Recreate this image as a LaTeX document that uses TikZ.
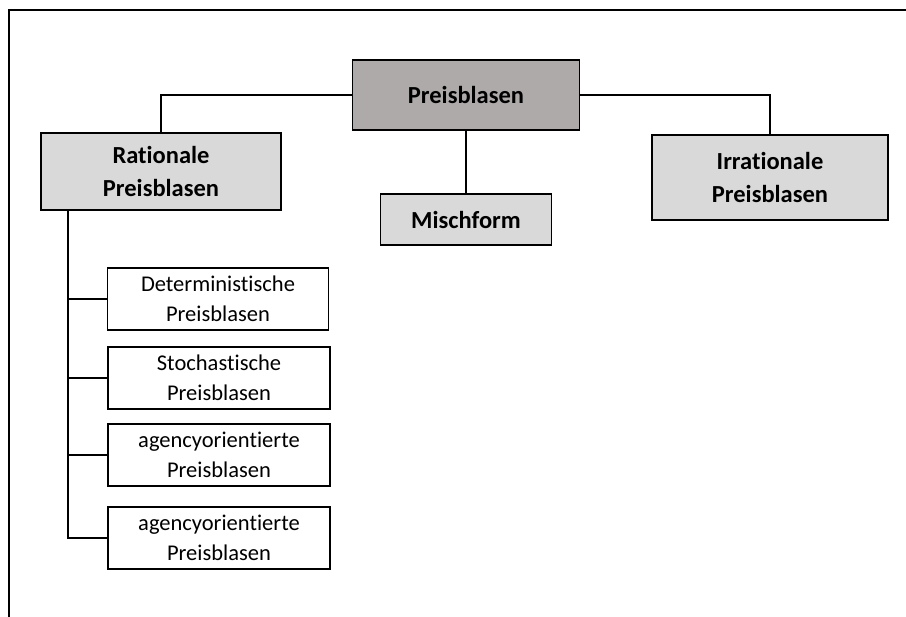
\documentclass[tikz,border=0pt]{standalone}
\usepackage{fontspec}
\setmainfont{Carlito}[Ligatures=NoCommon]
\definecolor{hellgrau}{HTML}{D9D9D9}
\definecolor{dunkelgrau}{HTML}{AEAAAA}
\tikzset{
  kasten/.style={draw, line width=1.6pt, fill=hellgrau, align=center, inner sep=0pt, font=\bfseries\fontsize{24.5}{33}\selectfont},
  unterkasten/.style={draw, line width=1.4pt, fill=white, align=center, inner sep=0pt, minimum width=222pt, minimum height=62pt, font=\fontsize{22.5}{30}\selectfont},
  linie/.style={line width=2pt}
}

\begin{document}
\begin{tikzpicture}[x=1pt,y=-1pt]
		\useasboundingbox (0,0) rectangle (906,617);
		\draw[line width=2pt] (9,617) -- (9,10) -- (906,10); %Rahmen
		\node[kasten, fill=dunkelgrau, minimum width=227pt, minimum height=70pt] (pb) at (466,95) {Preisblasen}; %Oberbegriff
		\node[kasten, minimum width=240pt, minimum height=77pt] (rat) at (161,171.5) {Rationale\\Preisblasen}; %links
		\node[kasten, minimum width=171pt, minimum height=51pt] (misch) at (466,219.5) {Mischform}; %Mitte
		\node[kasten, minimum width=236pt, minimum height=85pt] (irr) at (770,177.5) {Irrationale\\Preisblasen}; %rechts
		\node[unterkasten, minimum width=221pt] (det) at (218,299) {Deterministische\\Preisblasen};
		\node[unterkasten] (sto) at (219,378) {Stochastische\\Preisblasen};
		\node[unterkasten] (ag1) at (219,455) {agencyorientierte\\Preisblasen};
		\node[unterkasten] (ag2) at (219,538) {agencyorientierte\\Preisblasen};
		\draw[linie] (pb.west) -| (rat.north);
		\draw[linie] (pb.east) -| (irr.north);
		\draw[linie] (pb.south) -- (misch.north);
		\coordinate (stamm) at (68,538); %Ende des Stamms
		\draw[linie] (rat.south -| stamm) -- (stamm) -- (ag2.west);
		\foreach \k in {det,sto,ag1}
			\draw[linie] (stamm |- \k.west) -- (\k.west);
\end{tikzpicture}
\end{document}
